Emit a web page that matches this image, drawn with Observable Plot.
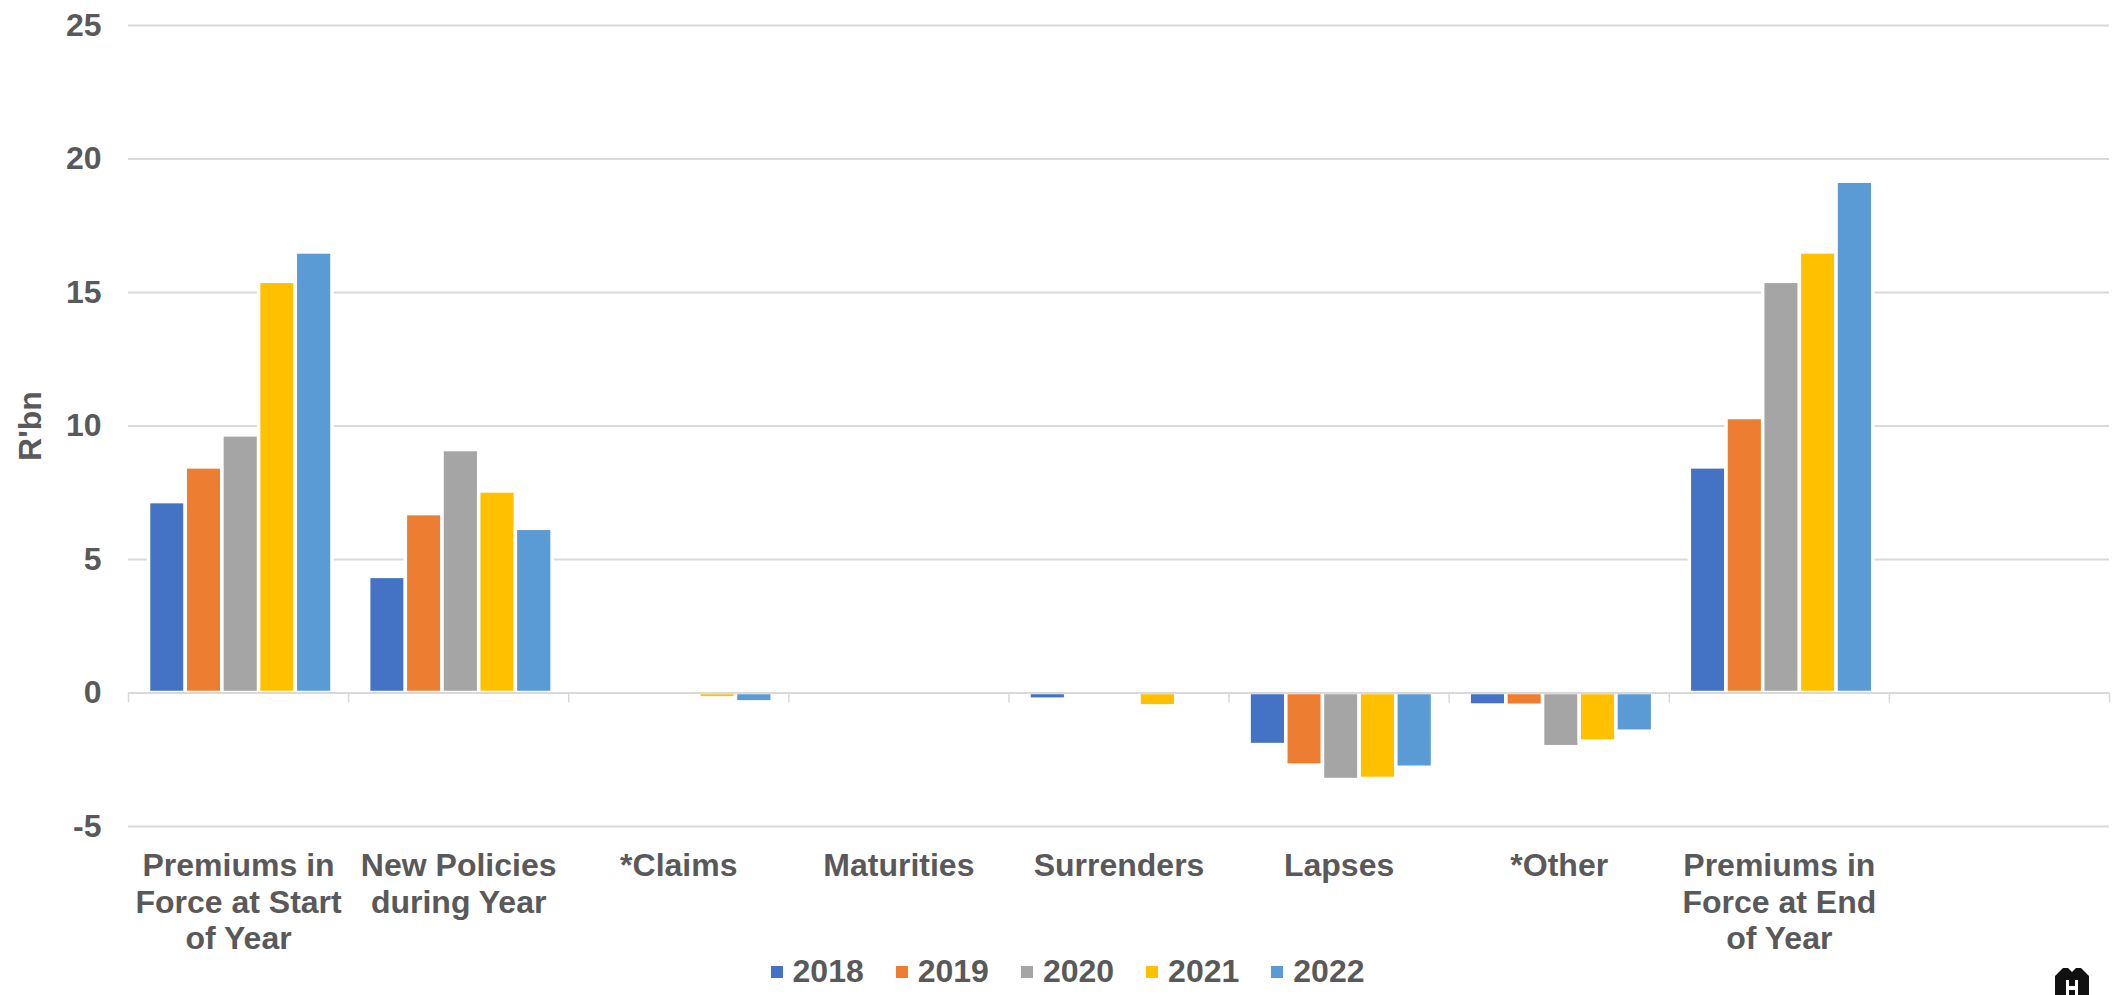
<!DOCTYPE html>
<html>
<head>
<meta charset="utf-8">
<script src="https://cdn.jsdelivr.net/npm/d3@7"></script>
<script src="https://cdn.jsdelivr.net/npm/@observablehq/plot@0.6"></script>
<style>
  html, body { margin: 0; padding: 0; background: #ffffff; }
  body { width: 2113px; height: 995px; position: relative; overflow: hidden;
         font-family: "Liberation Sans", Arial, sans-serif; }
  #legend { display: flex; justify-content: center; align-items: center;
            height: 47px; padding-left: 22px; box-sizing: border-box; }
  .item { display: flex; align-items: center; margin-right: 32px;
          font-size: 32px; font-weight: bold; color: #595959; }
  .item:last-child { margin-right: 0; }
  .swatch { width: 12px; height: 12px; margin-right: 10px; }
  #logo { position: absolute; left: 2054px; top: 967px; }
</style>
</head>
<body>
<div id="chart"></div>
<div id="legend"></div>
<svg id="logo" width="36" height="30" viewBox="0 0 36 30">
  <path d="M1 30 V9 L9 1 H14 L18 5 L22 1 H27 L35 9 V30 Z" fill="#111"/>
  <path d="M12 30 V13 H15 V19 H21 V13 H24 V30 H21 V23 H15 V30 Z" fill="#fff"/>
</svg>
<script>
// Premium movements (R'bn) by component, one value per category per year
const categories = [
  "Premiums in\nForce at Start\nof Year",
  "New Policies\nduring Year",
  "*Claims",
  "Maturities",
  "Surrenders",
  "Lapses",
  "*Other",
  "Premiums in\nForce at End\nof Year",
  ""
];
const years = ["2018", "2019", "2020", "2021", "2022"];
const values2018 = [7.15, 4.35, 0, 0, -0.25, -1.95, -0.47, 8.45, null];
const values2019 = [8.45, 6.7, 0, 0, 0, -2.72, -0.48, 10.3, null];
const values2020 = [9.65, 9.1, 0, 0, 0, -3.26, -2.03, 15.4, null];
const values2021 = [15.4, 7.55, -0.2, 0, -0.5, -3.22, -1.82, 16.5, null];
const values2022 = [16.5, 6.15, -0.35, 0, 0, -2.8, -1.45, 19.15, null];
const yTicks = [-5, 0, 5, 10, 15, 20, 25];
const yearColors = ["#4472C4", "#ED7D31", "#A5A5A5", "#FFC000", "#5B9BD5"];

const TEXT = "#595959";
const GRID = "#D9D9D9";
const FONT = "'Liberation Sans', Arial, sans-serif";

const series = [values2018, values2019, values2020, values2021, values2022];
const rows = categories.flatMap((category, slot) =>
  years.map((year, rank) => ({category, year, slot, rank, value: series[rank][slot]}))
).filter(d => d.value != null && d.value !== 0);

// each category gets five bar widths plus one bar width of spacing
const slotsPerGroup = years.length + 1;
const lead = 0.56; // spacing before the first bar of a group, in bar widths

const chart = Plot.plot({
  width: 2113,
  height: 948,
  marginLeft: 128,
  marginRight: 4,
  marginTop: 25,
  marginBottom: 122,
  style: {fontFamily: FONT, background: "#ffffff", overflow: "visible"},
  x: {domain: [0, categories.length], axis: null},
  y: {domain: [-5, 25], axis: null},
  color: {domain: years, range: yearColors},
  marks: [
    Plot.ruleY(yTicks.filter(t => t !== 0), {stroke: GRID, strokeWidth: 2}),
    Plot.rectY(rows, {
      x1: d => d.slot + (d.rank + lead) / slotsPerGroup,
      x2: d => d.slot + (d.rank + lead + 1) / slotsPerGroup,
      y1: 0,
      y2: "value",
      fill: "year",
      stroke: "#ffffff",
      strokeWidth: 3.5
    }),
    Plot.ruleY([0], {stroke: GRID, strokeWidth: 2}),
    Plot.ruleX(d3.range(categories.length + 1), {
      x: d => d, y1: 0, y2: 0, insetBottom: -10, stroke: GRID, strokeWidth: 1.5
    }),
    Plot.axisY({
      ticks: yTicks,
      tickFormat: d => String(d),
      tickSize: 0,
      tickPadding: 27,
      fontSize: 32,
      fontWeight: "bold",
      fill: TEXT,
      label: "R'bn",
      labelAnchor: "center",
      labelArrow: "none",
      labelOffset: 110
    }),
    Plot.text(categories, {
      x: (d, i) => i + 0.5,
      text: d => d,
      frameAnchor: "bottom",
      lineAnchor: "top",
      dy: 24,
      lineHeight: 1.14,
      fontSize: 32,
      fontWeight: "bold",
      fill: TEXT
    })
  ]
});
document.getElementById("chart").appendChild(chart);

const legend = document.getElementById("legend");
years.forEach((year, i) => {
  const item = document.createElement("div");
  item.className = "item";
  const sw = document.createElement("span");
  sw.className = "swatch";
  sw.style.background = yearColors[i];
  const label = document.createElement("span");
  label.textContent = year;
  item.appendChild(sw);
  item.appendChild(label);
  legend.appendChild(item);
});
</script>
</body>
</html>
